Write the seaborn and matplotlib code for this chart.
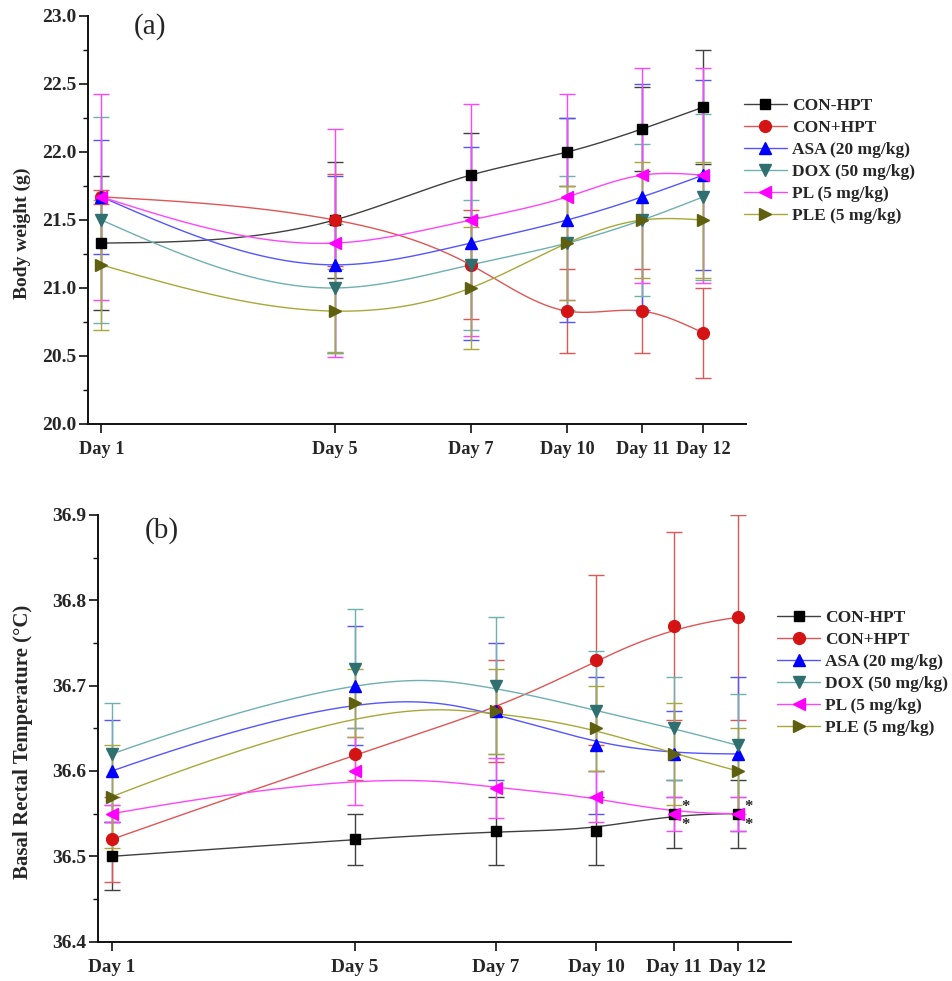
import numpy as np
import pandas as pd
import matplotlib
matplotlib.use("Agg")
import matplotlib.pyplot as plt
from matplotlib.lines import Line2D
from matplotlib.ticker import MultipleLocator, FormatStrFormatter
import seaborn as sns

# ---- data -------------------------------------------------------------
days = ["Day 1", "Day 5", "Day 7", "Day 10", "Day 11", "Day 12"]
day_pos = [0.0, 0.3876, 0.6135, 0.774, 0.8987, 1.0]   # category spacing on the x axis

groups = ["CON-HPT", "CON+HPT", "ASA (20 mg/kg)", "DOX (50 mg/kg)",
          "PL (5 mg/kg)", "PLE (5 mg/kg)"]

# (a) body weight (g)
bw_con_minus = [21.33, 21.50, 21.83, 22.00, 22.17, 22.33]
bw_con_plus = [21.67, 21.50, 21.17, 20.83, 20.83, 20.67]
bw_asa = [21.67, 21.17, 21.33, 21.50, 21.67, 21.83]
bw_dox = [21.50, 21.00, 21.17, 21.33, 21.50, 21.67]
bw_pl = [21.67, 21.33, 21.50, 21.67, 21.83, 21.83]
bw_ple = [21.17, 20.83, 21.00, 21.33, 21.50, 21.50]

bw_err_con_minus = [0.49, 0.43, 0.31, 0.25, 0.31, 0.42]
bw_err_con_plus = [0.05, 0.34, 0.40, 0.31, 0.31, 0.33]
bw_err_asa = [0.42, 0.65, 0.71, 0.75, 0.83, 0.70]
bw_err_dox = [0.76, 0.47, 0.48, 0.49, 0.56, 0.61]
bw_err_pl = [0.76, 0.84, 0.85, 0.76, 0.79, 0.79]
bw_err_ple = [0.48, 0.31, 0.45, 0.42, 0.43, 0.43]

# (b) basal rectal temperature (°C)
bt_con_minus = [36.50, 36.52, 36.53, 36.53, 36.55, 36.55]
bt_con_plus = [36.52, 36.62, 36.67, 36.73, 36.77, 36.78]
bt_asa = [36.60, 36.70, 36.67, 36.63, 36.62, 36.62]
bt_dox = [36.62, 36.72, 36.70, 36.67, 36.65, 36.63]
bt_pl = [36.55, 36.60, 36.58, 36.57, 36.55, 36.55]
bt_ple = [36.57, 36.68, 36.67, 36.65, 36.62, 36.60]

bt_err_con_minus = [0.04, 0.03, 0.04, 0.04, 0.04, 0.04]
bt_err_con_plus = [0.05, 0.03, 0.06, 0.10, 0.11, 0.12]
bt_err_asa = [0.06, 0.07, 0.08, 0.08, 0.05, 0.09]
bt_err_dox = [0.06, 0.07, 0.08, 0.07, 0.06, 0.06]
bt_err_pl = [0.01, 0.04, 0.035, 0.03, 0.02, 0.02]
bt_err_ple = [0.06, 0.04, 0.05, 0.05, 0.06, 0.05]

# significance stars (panel b)
star_days = ["Day 11", "Day 12"]

# ---- style ------------------------------------------------------------
line_colors = ["#404040", "#e05555", "#5555ff", "#6fb0b0", "#ff44ff", "#a8a838"]
marker_colors = ["#000000", "#d41414", "#0000ff", "#2f6f6f", "#ff00ff", "#5f5f10"]
markers = ["s", "o", "^", "v", "<", ">"]
marker_sizes = [7, 8.5, 8.5, 8.5, 8.5, 8.5]

sns.set_theme(style="ticks")
plt.rcParams["font.family"] = ["Liberation Serif", "DejaVu Serif"]
plt.rcParams["font.weight"] = "bold"
plt.rcParams["axes.labelweight"] = "bold"


def natural_spline(x, y, n=300):
    x = np.asarray(x, float)
    y = np.asarray(y, float)
    m = len(x)
    h = np.diff(x)
    A = np.zeros((m, m))
    r = np.zeros(m)
    A[0, 0] = A[-1, -1] = 1.0
    for i in range(1, m - 1):
        A[i, i - 1] = h[i - 1]
        A[i, i] = 2 * (h[i - 1] + h[i])
        A[i, i + 1] = h[i]
        r[i] = 6 * ((y[i + 1] - y[i]) / h[i] - (y[i] - y[i - 1]) / h[i - 1])
    M = np.linalg.solve(A, r)
    xs = np.linspace(x[0], x[-1], n)
    idx = np.clip(np.searchsorted(x, xs) - 1, 0, m - 2)
    x0, x1 = x[idx], x[idx + 1]
    hh = x1 - x0
    a = (x1 - xs) / hh
    b = (xs - x0) / hh
    ys = (a * y[idx] + b * y[idx + 1]
          + ((a ** 3 - a) * M[idx] + (b ** 3 - b) * M[idx + 1]) * hh ** 2 / 6)
    return xs, ys


def bspline_curve(x, y, n=300, k=3):
    pts = np.column_stack([x, y]).astype(float)
    m = len(pts)
    knots = np.concatenate([np.zeros(k), np.linspace(0, 1, m - k + 1), np.ones(k)])
    t = np.linspace(0, 1, n)
    N = np.zeros((n, len(knots) - 1))
    for i in range(len(knots) - 1):
        N[:, i] = (knots[i] <= t) & (t < knots[i + 1])
    N[t >= 1.0, m - 1] = 1.0
    for d in range(1, k + 1):
        for i in range(len(knots) - 1 - d):
            den1 = knots[i + d] - knots[i]
            den2 = knots[i + d + 1] - knots[i + 1]
            left = (t - knots[i]) / den1 * N[:, i] if den1 > 0 else 0.0
            right = (knots[i + d + 1] - t) / den2 * N[:, i + 1] if den2 > 0 else 0.0
            N[:, i] = left + right
    curve = N[:, :m] @ pts
    return curve[:, 0], curve[:, 1]


def draw_panel(ax, values, errors, smoother):
    for j, (name, vals, errs) in enumerate(zip(groups, values, errors)):
        xs, ys = smoother(day_pos, vals)
        curve = pd.DataFrame({"x": xs, "y": ys})
        sns.lineplot(data=curve, x="x", y="y", ax=ax, color=line_colors[j],
                     lw=1.0, sort=False, estimator=None, zorder=2 + j)
        ax.errorbar(day_pos, vals, yerr=errs, fmt="none", ecolor=line_colors[j],
                    elinewidth=1.0, capsize=5.5, capthick=1.0, zorder=2 + j)
        ax.plot(day_pos, vals, linestyle="none", marker=markers[j],
                ms=marker_sizes[j], mfc=marker_colors[j], mec=marker_colors[j],
                zorder=10 + j)


def style_axes(ax, xtick_size, ytick_size):
    sns.despine(ax=ax)
    for s in ("left", "bottom"):
        ax.spines[s].set_linewidth(1.4)
        ax.spines[s].set_color("#111111")
    ax.set_xticks(day_pos)
    ax.set_xticklabels(days, fontsize=xtick_size, fontweight="bold")
    ax.tick_params(axis="both", which="major", length=6.5, width=1.2, color="#111111",
                   direction="out")
    ax.tick_params(axis="y", which="major", labelsize=ytick_size, pad=2)
    ax.tick_params(axis="y", which="minor", length=3.5, width=1.0, color="#111111",
                   direction="out")
    ax.tick_params(axis="x", which="major", pad=6)
    for lab in ax.get_yticklabels():
        lab.set_fontweight("bold")
    ax.set_xlabel("")
    ax.grid(False)


def legend_handles():
    return [Line2D([], [], color=line_colors[j], lw=1.0, marker=markers[j],
                   ms=marker_sizes[j], mfc=marker_colors[j], mec=marker_colors[j])
            for j in range(len(groups))]


fig = plt.figure(figsize=(9.52, 9.81), dpi=100)

# ---- panel (a) --------------------------------------------------------
ax1 = fig.add_axes([0.0924, 0.5678, 0.6912, 0.4159])
draw_panel(ax1,
           [bw_con_minus, bw_con_plus, bw_asa, bw_dox, bw_pl, bw_ple],
           [bw_err_con_minus, bw_err_con_plus, bw_err_asa, bw_err_dox,
            bw_err_pl, bw_err_ple],
           natural_spline)
ax1.set_xlim(-0.0221, 1.0709)
ax1.set_ylim(20.0, 23.0)
ax1.yaxis.set_major_locator(MultipleLocator(0.5))
ax1.yaxis.set_minor_locator(MultipleLocator(0.25))
ax1.yaxis.set_major_formatter(FormatStrFormatter("%.1f"))
style_axes(ax1, 13.2, 14)
ax1.set_ylabel("Body weight (g)", fontsize=14, fontweight="bold")
ax1.yaxis.set_label_coords(-0.087, 0.468)
ax1.text(0.095, 1.006, "(a)", transform=ax1.transAxes, fontsize=21,
         fontweight="normal", va="top", ha="center")
ax1.legend(legend_handles(), groups, loc="upper left",
           bbox_to_anchor=(0.781, 0.9), bbox_transform=fig.transFigure,
           frameon=False, borderpad=0, borderaxespad=0,
           handlelength=2.5, handletextpad=0.3, labelspacing=0.33,
           prop={"weight": "bold", "size": 12.5})

# ---- panel (b) --------------------------------------------------------
ax2 = fig.add_axes([0.1033, 0.0401, 0.7273, 0.4350])
draw_panel(ax2,
           [bt_con_minus, bt_con_plus, bt_asa, bt_dox, bt_pl, bt_ple],
           [bt_err_con_minus, bt_err_con_plus, bt_err_asa, bt_err_dox,
            bt_err_pl, bt_err_ple],
           bspline_curve)
ax2.set_xlim(-0.0219, 1.0847)
ax2.set_ylim(36.4, 36.9)
ax2.yaxis.set_major_locator(MultipleLocator(0.1))
ax2.yaxis.set_minor_locator(MultipleLocator(0.05))
ax2.yaxis.set_major_formatter(FormatStrFormatter("%.1f"))
style_axes(ax2, 13.8, 14)
ax2.set_ylabel("Basal Rectal Temperature (\u00b0C)", fontsize=15, fontweight="bold")
ax2.yaxis.set_label_coords(-0.094, 0.469)
ax2.text(0.092, 0.995, "(b)", transform=ax2.transAxes, fontsize=21,
         fontweight="normal", va="top", ha="center")
ax2.legend(legend_handles(), groups, loc="upper left",
           bbox_to_anchor=(0.816, 0.378), bbox_transform=fig.transFigure,
           frameon=False, borderpad=0, borderaxespad=0,
           handlelength=2.5, handletextpad=0.3, labelspacing=0.33,
           prop={"weight": "bold", "size": 12.5})

for d in star_days:
    i = days.index(d)
    for dy in (5, -8):
        ax2.annotate("*", xy=(day_pos[i], bt_pl[i]), xytext=(8, dy),
                     textcoords="offset points", ha="center", va="center",
                     fontsize=12, fontweight="bold")

fig.savefig("out.png", dpi=100)
